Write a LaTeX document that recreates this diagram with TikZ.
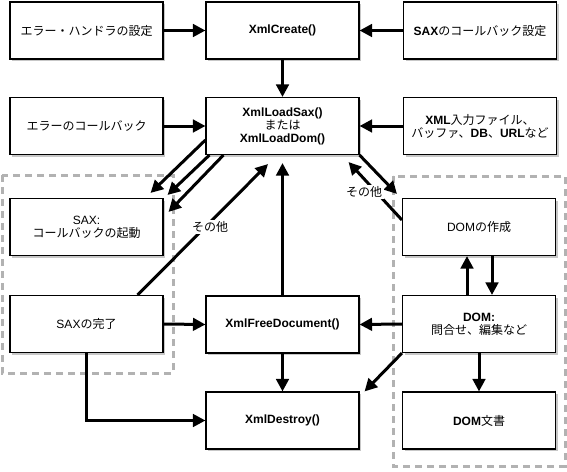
\documentclass[tikz,border=0pt]{standalone}
\usepackage{fontspec}
\setmainfont{Liberation Sans}
\newfontfamily\jp{Noto Sans CJK JP}
\usetikzlibrary{arrows.meta,calc,shadows}
\begin{document}
\begin{tikzpicture}[x=1pt,y=-1pt,
  box/.style={draw, line width=1.1pt, fill=white, minimum width=153pt, minimum height=57pt,
    inner sep=0pt, align=center, font=\fontsize{12}{13}\selectfont,
    drop shadow={shadow xshift=2pt, shadow yshift=-2pt, fill=black!22, opacity=1}},
  arr/.style={line width=3pt, -{Triangle[length=12.5pt,width=12.5pt]}},
  region/.style={draw=black!30, line width=3pt, dash pattern=on 7pt off 5pt},
  lbl/.style={fill=white, inner sep=1.5pt, font=\fontsize{12}{13}\selectfont}]
\useasboundingbox (0,0) rectangle (567,471);
% dashed regions
\draw[region] (2,175) rectangle (173,373);
\draw[region] (393,176) rectangle (565,466);
% boxes
\node[box] (eh) at (86.5,30.5) {\jp エラー・ハンドラの設定};
\node[box] (create) at (282.5,30.5) {\bfseries XmlCreate()};
\node[box] (saxset) at (480,30.5) {{\bfseries SAX}{\jp のコールバック設定}};
\node[box] (errcb) at (86.5,126) {\jp エラーのコールバック};
\node[box] (load) at (282.5,126) {{\bfseries XmlLoadSax()}\\{\jp または}\\{\bfseries XmlLoadDom()}};
\node[box] (xmlin) at (480,126) {{\bfseries XML}{\jp 入力ファイル、}\\{\jp バッファ、}{\bfseries DB}{\jp 、}{\bfseries URL}{\jp など}};
\node[box] (saxcb) at (86.5,227) {SAX:\\{\jp コールバックの起動}};
\node[box] (saxdone) at (86.5,324) {SAX{\jp の完了}};
\node[box] (free) at (282.5,324.5) {\bfseries XmlFreeDocument()};
\node[box] (destroy) at (282.5,420.5) {\bfseries XmlDestroy()};
\node[box] (domcreate) at (479,227) {DOM{\jp の作成}};
\node[box] (dom) at (479,324) {{\bfseries DOM:}\\{\jp 問合せ、編集など}};
\node[box] (domdoc) at (479,420.5) {{\bfseries DOM}{\jp 文書}};
% arrows
\draw[arr] (eh.east) -- (create.west);
\draw[arr] (saxset.west) -- (create.east);
\draw[arr] (create.south) -- (load.north);
\draw[arr] (errcb.east) -- (load.west);
\draw[arr] (xmlin.west) -- (load.east);
\draw[arr] ($(load.west)+(0,14)$) -- ($(saxcb.north east)+(-13,-5)$);
\draw[arr] ($(load.south west)+(4,0)$) -- ($(saxcb.north east)+(4,-3)$);
\draw[arr] ($(load.south west)+(18,0)$) -- ($(saxcb.north east)+(5,14)$);
\draw[arr] ($(saxdone.north east)+(-26,0)$) -- ($(load.south)+(-14.5,9)$);
\node[lbl] (other1) at (210,227) {\jp その他};
\draw[arr] (free.north) -- ($(load.south)+(0,8)$);
\draw[arr] (load.south east) -- ($(domcreate.north west)+(-5,-4)$);
\draw[arr] ($(domcreate.west)+(0,-7)$) -- ($(load.south east)+(-11,7)$);
\node[lbl] (other2) at (364,192) {\jp その他};
\draw[arr] ($(domcreate.south)+(13,0)$) -- ($(dom.north)+(13,0)$);
\draw[arr] ($(dom.north)+(-12,0)$) -- ($(domcreate.south)+(-12,0)$);
\draw[arr] (saxdone.east) -- (free.west);
\draw[arr] (dom.west) -- (free.east);
\draw[arr] (free.south) -- (destroy.north);
\draw[arr] (saxdone.south) |- (destroy.west);
\draw[arr] (dom.south west) -- ($(destroy.north east)+(5,0)$);
\draw[arr] (dom.south) -- (domdoc.north);
\end{tikzpicture}
\end{document}
